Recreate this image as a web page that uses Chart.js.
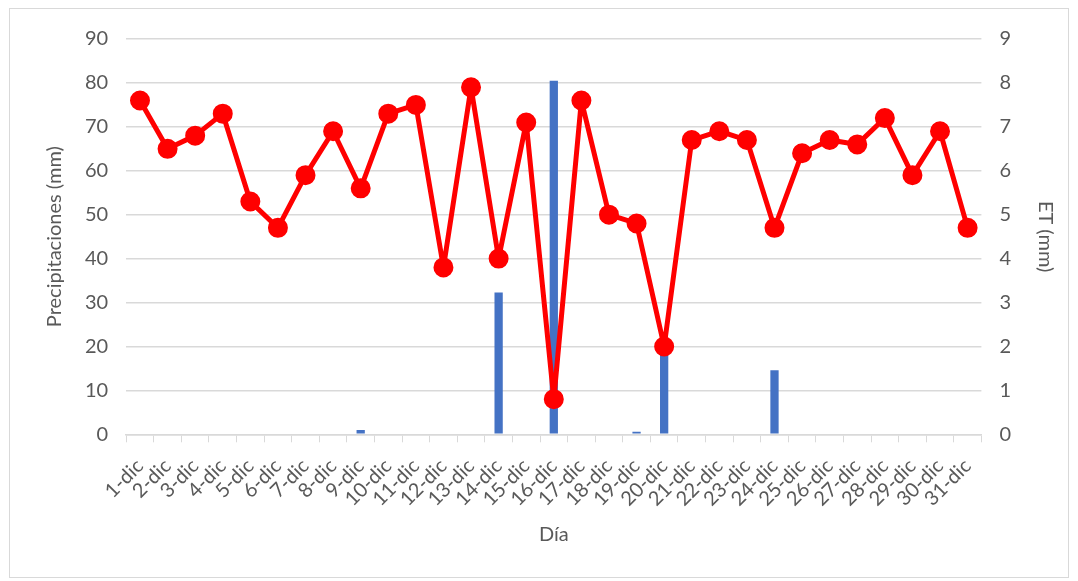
<!DOCTYPE html>
<html>
<head>
<meta charset="utf-8">
<script src="https://cdn.jsdelivr.net/npm/chart.js@4"></script>
<style>
  html, body { margin: 0; padding: 0; background: #fff; }
  #wrap { position: absolute; left: 9px; top: 8px; width: 1060px; height: 570px; border: 1px solid #d9d9d9; box-sizing: border-box; }
  canvas { position: absolute; left: 0; top: 0; }
</style>
</head>
<body>
<div id="wrap"><canvas id="chart" width="1058" height="568"></canvas></div>
<script>
const dias = ['1-dic','2-dic','3-dic','4-dic','5-dic','6-dic','7-dic','8-dic','9-dic','10-dic',
  '11-dic','12-dic','13-dic','14-dic','15-dic','16-dic','17-dic','18-dic','19-dic','20-dic',
  '21-dic','22-dic','23-dic','24-dic','25-dic','26-dic','27-dic','28-dic','29-dic','30-dic','31-dic'];

// precipitaciones (mm), eje izquierdo
const precipitaciones = [0,0,0,0,0,0,0,0,1.0,0,
  0,0,0,32.3,0,80.5,0,0,0.6,20.5,
  0,0,0,14.6,0,0,0,0,0,0,0];

// evapotranspiración (mm), eje derecho
const et = [7.6,6.5,6.8,7.3,5.3,4.7,5.9,6.9,5.6,7.3,
  7.5,3.8,7.9,4.0,7.1,0.8,7.6,5.0,4.8,2.0,
  6.7,6.9,6.7,4.7,6.4,6.7,6.6,7.2,5.9,6.9,4.7];

const fuente = { family: 'Lato, "Open Sans", sans-serif', size: 20 };
const gris = '#595959';

const ctx = document.getElementById('chart').getContext('2d');

new Chart(ctx, {
  data: {
    labels: dias,
    datasets: [
      {
        type: 'line',
        label: 'ET',
        data: et,
        yAxisID: 'y1',
        borderColor: '#ff0000',
        backgroundColor: '#ff0000',
        borderWidth: 5,
        borderJoinStyle: 'round',
        pointRadius: 7.5,
        pointHoverRadius: 7.5,
        tension: 0,
        order: 0
      },
      {
        type: 'bar',
        label: 'Precipitaciones',
        data: precipitaciones,
        yAxisID: 'y',
        backgroundColor: '#4472c4',
        barPercentage: 0.3,
        categoryPercentage: 1,
        order: 1
      }
    ]
  },
  options: {
    responsive: false,
    animation: false,
    layout: { padding: { left: 33, right: 7, top: 28, bottom: 26 } },
    plugins: { legend: { display: false }, tooltip: { enabled: false } },
    scales: {
      x: {
        offset: true,
        grid: { display: true, drawOnChartArea: false, tickLength: 8, color: '#d9d9d9', offset: true },
        border: { color: '#d9d9d9', width: 1.5 },
        ticks: { color: gris, font: fuente, minRotation: 45, maxRotation: 45, autoSkip: false, padding: 12 },
        title: { display: true, text: 'Día', color: gris, font: fuente, padding: { top: 0 } }
      },
      y: {
        position: 'left',
        min: 0, max: 90,
        ticks: { stepSize: 10, color: gris, font: fuente, padding: 18 },
        grid: { color: '#d9d9d9', lineWidth: 1.5, drawTicks: false },
        border: { display: false },
        title: { display: true, text: 'Precipitaciones (mm)', color: gris, font: fuente, padding: 0 }
      },
      y1: {
        position: 'right',
        min: 0, max: 9,
        ticks: { stepSize: 1, color: gris, font: fuente, padding: 18 },
        grid: { display: false, drawTicks: false },
        border: { display: false },
        title: { display: true, text: 'ET (mm)', color: gris, font: fuente, padding: 4 }
      }
    }
  }
});
</script>
</body>
</html>
